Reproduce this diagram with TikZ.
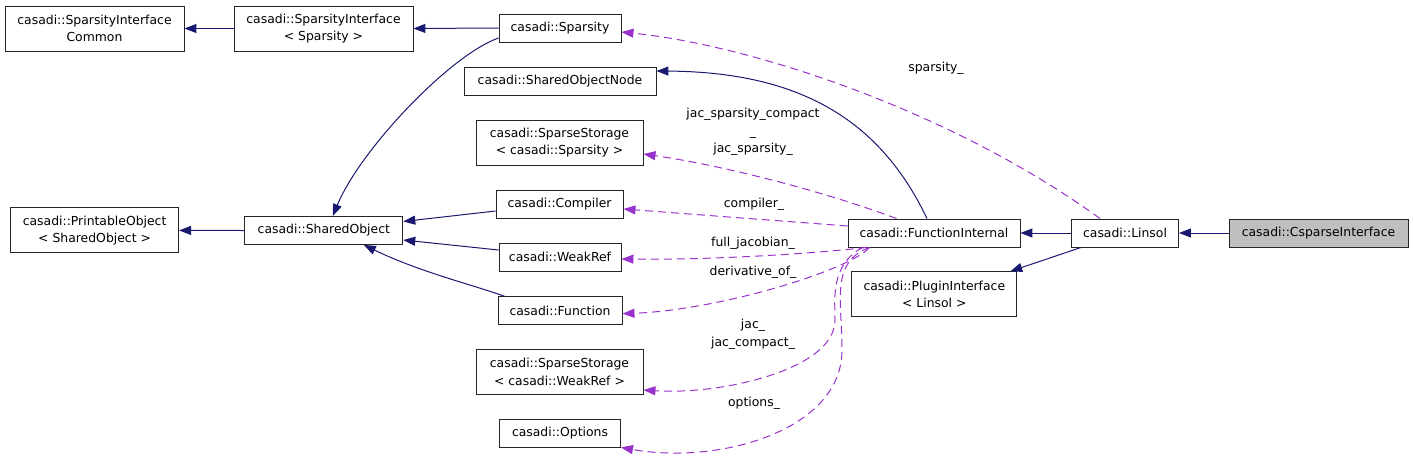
\documentclass[tikz,border=0pt]{standalone}
\usepackage{fontspec}
\setmainfont{DejaVu Sans}
\usetikzlibrary{arrows.meta,calc}
\definecolor{navy}{HTML}{191970}
\definecolor{orchid}{HTML}{9A32CD}
\definecolor{selgray}{HTML}{BFBFBF}
\begin{document}
\begin{tikzpicture}[
		x=1pt, y=-1pt,
		every node/.style={font=\fontsize{12.4}{17.5}\selectfont, align=center},
		cls/.style={rectangle, draw=black!85, line width=0.9pt, fill=white, inner sep=0pt, minimum height=28pt},
		twoline/.style={cls, minimum height=45pt},
		inh/.style={draw=navy, line width=1pt, -{Triangle[length=12pt,width=9pt]}},
		use/.style={draw=orchid, line width=1pt, dash pattern=on 8pt off 5pt, -{Triangle[length=12pt,width=9pt]}}
		]
		\useasboundingbox (0,0) rectangle (1413,461);
		
		% Left column: base classes
		\node[twoline, minimum width=179pt] (sic) at (94.5,28.5) {casadi::SparsityInterface\\Common};
		\node[twoline, minimum width=179pt] (sis) at (323.5,28.5) {casadi::SparsityInterface\\< Sparsity >};
		\node[twoline, minimum width=168pt] (po) at (94.6,230.4) {casadi::PrintableObject\\< SharedObject >};
		\node[cls, minimum width=158pt] (so) at (323.8,230.5) {casadi::SharedObject};
		
		% Middle column: members
		\node[cls, minimum width=122pt] (sp) at (560,28) {casadi::Sparsity};
		\node[cls, minimum width=192pt] (son) at (560,81) {casadi::SharedObjectNode};
		\node[twoline, minimum width=167pt] (ssp) at (559.5,142.5) {casadi::SparseStorage\\< casadi::Sparsity >};
		\node[cls, minimum width=127pt] (cmp) at (559.5,204) {casadi::Compiler};
		\node[cls, minimum width=122pt] (wr) at (560,257) {casadi::WeakRef};
		\node[cls, minimum width=124pt] (fn) at (560,310.7) {casadi::Function};
		\node[twoline, minimum width=167pt] (ssw) at (559.5,372) {casadi::SparseStorage\\< casadi::WeakRef >};
		\node[cls, minimum width=121pt] (opt) at (560,433) {casadi::Options};
		
		% Right column
		\node[cls, minimum width=172pt] (fi) at (934,233) {casadi::FunctionInternal};
		\node[twoline, minimum width=165pt] (pi) at (934.3,294.3) {casadi::PluginInterface\\< Linsol >};
		\node[cls, minimum width=107pt] (ls) at (1125,233) {casadi::Linsol};
		\node[cls, minimum width=179pt, fill=selgray] (cs) at (1318.5,233) {casadi::CsparseInterface};
		
		% Inheritance
		\draw[inh] (sis.west) -- (sic.east);
		\draw[inh] (sp.west) -- (sis.east);
		\draw[inh] ($(sp.west)+(0,10)$) .. controls (450,55) and (360,150) .. ($(so.north)+(9,0)$);
		\draw[inh] ($(cmp.west)+(0,7)$) -- ($(so.east)+(0,-9)$);
		\draw[inh] ($(wr.west)+(0,-7)$) -- ($(so.east)+(0,9.5)$);
		\draw[inh] ($(fn.north west)+(7,0)$) .. controls (470,284) and (420,272) .. ($(so.south)+(40,0)$);
		\draw[inh] (so.west) -- (po.east);
		\draw[inh] ($(fi.north)+(-7,0)$) .. controls (880,120) and (800,72) .. ($(son.east)+(0,-10)$);
		\draw[inh] (ls.west) -- (fi.east);
		\draw[inh] (cs.west) -- (ls.east);
		\draw[inh] ($(ls.south west)+(10,0)$) -- ($(pi.north east)+(-7,0)$);
		
		% Usage
		\draw[use] ($(ls.north)+(-25,0)$) .. controls (950,110) and (750,45) .. ($(sp.east)+(0,4)$);
		\draw[use] ($(fi.north west)+(49,0)$) .. controls (820,190) and (720,165) .. ($(ssp.east)+(0,11.5)$);
		\draw[use] ($(fi.west)+(0,-7)$) -- ($(cmp.east)+(0,5)$);
		\draw[use] ($(fi.south west)+(19,0)$) .. controls (800,255) and (700,260) .. ($(wr.east)+(0,2)$);
		\draw[use] ($(fi.south west)+(22,0)$) .. controls (850,270) and (720,310) .. ($(fn.east)+(0,3)$);
		\draw[use] ($(fi.south west)+(15,0)$) .. controls (830,265) and (835,300) .. (835,320) .. controls (835,370) and (720,395) .. ($(ssw.east)+(0,18)$);
		\draw[use] ($(fi.south west)+(22,0)$) .. controls (830,262) and (842,300) .. (842,350) .. controls (842,430) and (720,465) .. (opt.south east);
		
		% Member labels
		\node (lsp) at (936,68) {sparsity\_};
		\node (ljac) at (753,132) {jac\_sparsity\_compact\\\_\\jac\_sparsity\_};
		\node (lcmp) at (754,204) {compiler\_};
		\node (lfull) at (753,243) {full\_jacobian\_};
		\node (lder) at (753,272) {derivative\_of\_};
		\node (ljc) at (753,334) {jac\_\\jac\_compact\_};
		\node (lopt) at (754,403) {options\_};
		
	\end{tikzpicture}
\end{document}
